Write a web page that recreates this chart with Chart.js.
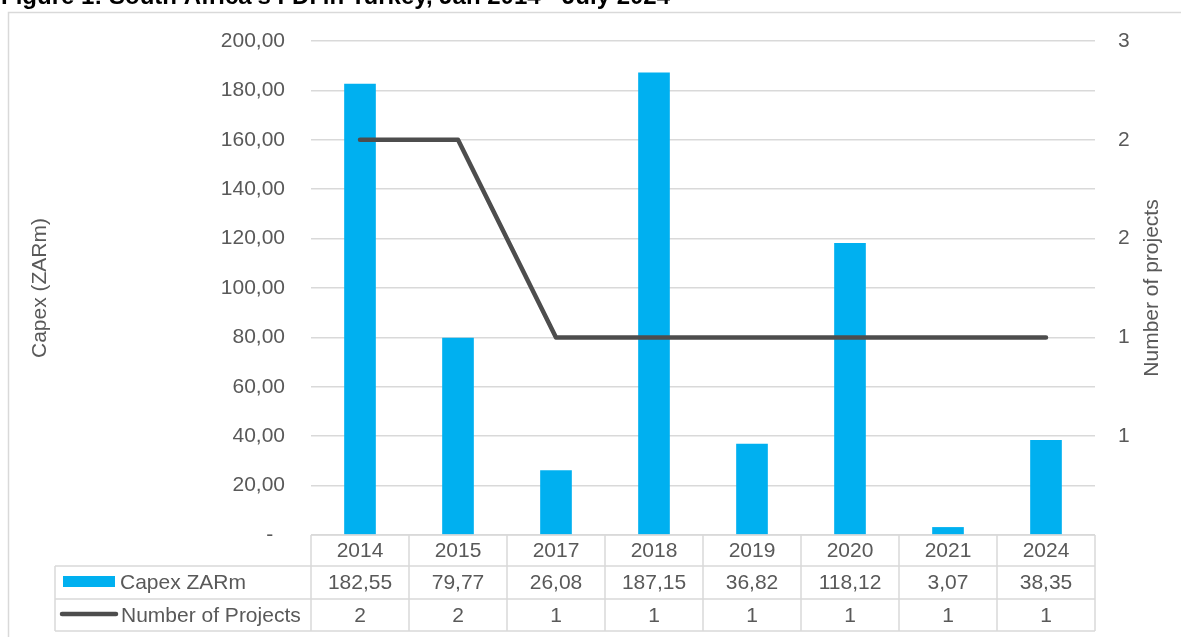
<!DOCTYPE html>
<html>
<head>
<meta charset="utf-8">
<script src="https://cdn.jsdelivr.net/npm/chart.js@4.4.1/dist/chart.umd.min.js"></script>
<style>
  html, body { margin: 0; padding: 0; background: #fff; }
  #wrap { width: 1182px; height: 637px; }
</style>
</head>
<body>
<div id="wrap"><canvas id="myChart" width="1182" height="637"></canvas></div>
<script>
const years = ["2014", "2015", "2017", "2018", "2019", "2020", "2021", "2024"];
const capex = [182.55, 79.77, 26.08, 187.15, 36.82, 118.12, 3.07, 38.35];
const projects = [2, 2, 1, 1, 1, 1, 1, 1];

const title = "Figure 1: South Africa's FDI in Turkey, Jan 2014 - July 2024";
const capexLabel = "Capex ZARm";
const projectsLabel = "Number of Projects";
const leftTitle = "Capex (ZARm)";
const rightTitle = "Number of projects";

const FONT = "'Liberation Sans', Arial, sans-serif";
const SIZE = 21;
const grey = "#595959";
const gridCol = "#d9d9d9";
const blue = "#00b0f0";
const lineCol = "#4d4d4d";

function fmt(v) {
  return v.toFixed(2).replace(".", ",");
}

// frame + cut off title behind the chart
const framePlugin = {
  id: "frame",
  beforeDraw(chart) {
    const c = chart.ctx;
    c.save();
    c.fillStyle = "#fff";
    c.fillRect(0, 0, chart.width, chart.height);
    c.strokeStyle = gridCol;
    c.lineWidth = 1.5;
    c.beginPath();
    c.moveTo(8.5, chart.height + 5);
    c.lineTo(8.5, 12.5);
    c.lineTo(chart.width - 1, 12.5);
    c.stroke();
    c.fillStyle = "#000";
    c.font = "bold 24px " + FONT;
    c.textBaseline = "alphabetic";
    c.fillText(title, 1, 4);
    c.restore();
  },
};

// data table under the x axis, plus right axis title (reads bottom to top)
const tablePlugin = {
  id: "dataTable",
  afterDraw(chart) {
    const c = chart.ctx;
    const x = chart.scales.x;
    const w = (x.right - x.left) / years.length;
    const y0 = chart.chartArea.bottom;
    const y1 = 566, y2 = 599, y3 = 631;
    const labL = 55;

    c.save();
    c.strokeStyle = gridCol;
    c.lineWidth = 1.5;
    c.beginPath();
    c.moveTo(x.left, y0); c.lineTo(x.right, y0);
    [y1, y2, y3].forEach((yy) => { c.moveTo(labL, yy); c.lineTo(x.right, yy); });
    c.moveTo(labL, y1); c.lineTo(labL, y3);
    for (let i = 0; i <= years.length; i++) {
      const xx = x.left + i * w;
      c.moveTo(xx, y0); c.lineTo(xx, y3);
    }
    c.stroke();

    c.font = SIZE + "px " + FONT;
    c.fillStyle = grey;
    c.textAlign = "center";
    c.textBaseline = "middle";
    for (let i = 0; i < years.length; i++) {
      const cx = x.getPixelForValue(i);
      c.fillText(fmt(capex[i]), cx, (y1 + y2) / 2 + 1);
      c.fillText(String(projects[i]), cx, (y2 + y3) / 2 + 1);
    }

    // legend keys
    c.fillStyle = blue;
    c.fillRect(63, 576, 52, 11);
    c.strokeStyle = lineCol;
    c.lineWidth = 4.5;
    c.lineCap = "round";
    c.beginPath();
    c.moveTo(62, 614); c.lineTo(116, 614);
    c.stroke();

    c.fillStyle = grey;
    c.textAlign = "left";
    c.fillText(capexLabel, 120, (y1 + y2) / 2 + 1);
    c.fillText(projectsLabel, 121, (y2 + y3) / 2 + 1);

    const area = chart.chartArea;
    c.translate(1152, (area.top + area.bottom) / 2);
    c.rotate(-Math.PI / 2);
    c.textAlign = "center";
    c.fillText(rightTitle, 0, 0);
    c.restore();
  },
};

const ctx = document.getElementById("myChart");

new Chart(ctx, {
  type: "bar",
  data: {
    labels: years,
    datasets: [
      {
        type: "bar",
        label: capexLabel,
        data: capex,
        backgroundColor: blue,
        barThickness: 31,
        yAxisID: "y",
        order: 2,
      },
      {
        type: "line",
        label: projectsLabel,
        data: projects,
        borderColor: lineCol,
        borderWidth: 4.5,
        borderCapStyle: "round",
        borderJoinStyle: "round",
        pointRadius: 0,
        tension: 0,
        yAxisID: "y1",
        order: 1,
      },
    ],
  },
  options: {
    responsive: false,
    animation: false,
    devicePixelRatio: 1,
    layout: { padding: { top: 41, left: 0, right: 0, bottom: 0 } },
    plugins: {
      legend: { display: false },
      tooltip: { enabled: false },
      title: { display: false },
    },
    scales: {
      x: {
        grid: { display: false, drawTicks: false },
        border: { display: false },
        ticks: {
          color: grey,
          font: { family: FONT, size: SIZE },
          padding: 4,
          maxRotation: 0,
        },
        afterFit(scale) { scale.height = 102; },
      },
      y: {
        position: "left",
        min: 0,
        max: 200,
        grid: { color: gridCol, lineWidth: 1.5, drawTicks: false },
        border: { display: false },
        ticks: {
          stepSize: 20,
          color: grey,
          font: { family: FONT, size: SIZE },
          padding: 26,
          callback: (v) => (v === 0 ? "-  " : fmt(v)),
        },
        title: {
          display: true,
          text: leftTitle,
          color: grey,
          font: { family: FONT, size: SIZE },
          padding: { top: 27.4, bottom: 0 },
        },
        afterFit(scale) { scale.width = 311; },
      },
      y1: {
        position: "right",
        min: 0,
        max: 2.5,
        grid: { display: false, drawTicks: false },
        border: { display: false },
        ticks: {
          stepSize: 0.5,
          color: grey,
          font: { family: FONT, size: SIZE },
          padding: 23,
          callback: (v) => (v === 0 ? "" : String(Math.round(v))),
        },
        afterFit(scale) { scale.width = 87; },
      },
    },
  },
  plugins: [framePlugin, tablePlugin],
});
</script>
</body>
</html>
